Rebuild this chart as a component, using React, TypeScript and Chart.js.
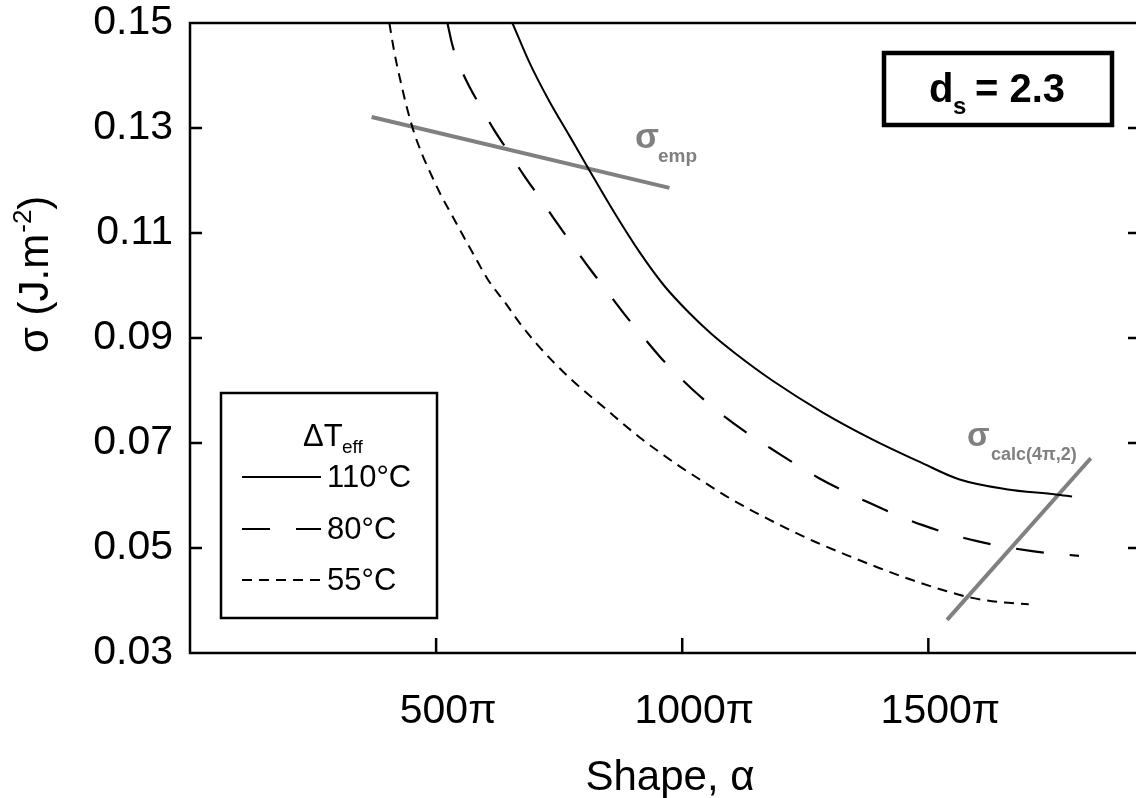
import React, { useEffect, useRef } from "react";
import { Chart, registerables } from "chart.js";

Chart.register(...registerables);

// ---- data ----
const xTickValues = [500, 1000, 1500];
const yTickValues = [0.03, 0.05, 0.07, 0.09, 0.11, 0.13, 0.15];

const alpha110 = [655, 689, 730, 771, 811, 862, 913, 963, 1014, 1059, 1110, 1183, 1284, 1386, 1487, 1562, 1658, 1759, 1792];
const sigma110 = [0.15, 0.1426, 0.1351, 0.1285, 0.122, 0.1139, 0.1064, 0.1, 0.0948, 0.0908, 0.0869, 0.0819, 0.0759, 0.0707, 0.0662, 0.0631, 0.0612, 0.0602, 0.0598];

const alpha80 = [523, 533, 547, 568, 592, 618, 649, 679, 712, 744, 779, 813, 848, 882, 919, 955, 994, 1035, 1081, 1132, 1181, 1278, 1380, 1487, 1599, 1711, 1806];
const sigma80 = [0.15, 0.1458, 0.142, 0.1378, 0.1338, 0.1296, 0.1252, 0.1209, 0.1165, 0.1121, 0.1075, 0.1031, 0.0988, 0.0946, 0.0904, 0.0864, 0.0826, 0.079, 0.0754, 0.0719, 0.0689, 0.0633, 0.0586, 0.0544, 0.0513, 0.0494, 0.0485];

const alpha55 = [405, 415, 428, 442, 456, 472, 491, 511, 531, 553, 578, 606, 639, 671, 706, 771, 842, 913, 953, 994, 1035, 1089, 1150, 1211, 1272, 1333, 1400, 1467, 1536, 1589, 1644, 1704];
const sigma55 = [0.15, 0.1445, 0.1388, 0.1334, 0.1289, 0.1249, 0.1209, 0.117, 0.1136, 0.1098, 0.1056, 0.101, 0.0969, 0.0927, 0.0887, 0.0824, 0.0767, 0.0711, 0.0683, 0.0656, 0.0631, 0.0599, 0.0567, 0.0538, 0.0511, 0.0487, 0.0462, 0.0439, 0.0418, 0.0405, 0.0397, 0.0393];

const empAlpha = [369, 974];
const empSigma = [0.1321, 0.1186];

const calcAlpha = [1538, 1830];
const calcSigma = [0.0363, 0.0671];

const legendLabels = ["110°C", "80°C", "55°C"];
const dashPatterns: number[][] = [[], [28, 26], [10, 7]];

const FONT = "'Liberation Sans', Arial, sans-serif";
const GREY = "#808080";

const toPts = (xs: number[], ys: number[]) => xs.map((x, i) => ({ x, y: ys[i] }));

const decorPlugin = {
  id: "decor",
  afterDraw(chart: any) {
    const { ctx, chartArea, scales } = chart;
    const { left, top, right, bottom } = chartArea;
    const xs = scales.x;
    const ys = scales.y;
    ctx.save();
    // frame
    ctx.strokeStyle = "#000";
    ctx.lineWidth = 2.5;
    ctx.setLineDash([]);
    ctx.strokeRect(left, top, right - left, bottom - top);
    // inward ticks
    ctx.beginPath();
    xTickValues.forEach((v) => {
      const px = xs.getPixelForValue(v);
      ctx.moveTo(px, bottom);
      ctx.lineTo(px, bottom - 15);
    });
    yTickValues.slice(1, -1).forEach((v) => {
      const py = ys.getPixelForValue(v);
      ctx.moveTo(left, py);
      ctx.lineTo(left + 12, py);
      ctx.moveTo(right, py);
      ctx.lineTo(right - 12, py);
    });
    ctx.stroke();

    // d_s box
    ctx.lineWidth = 4.5;
    ctx.strokeRect(884, 53, 228, 72);
    ctx.fillStyle = "#000";
    ctx.textBaseline = "alphabetic";
    ctx.textAlign = "left";
    ctx.font = `bold 40px ${FONT}`;
    ctx.fillText("d", 929, 102);
    ctx.font = `bold 24px ${FONT}`;
    ctx.fillText("s", 953, 114);
    ctx.font = `bold 40px ${FONT}`;
    ctx.fillText("= 2.3", 975, 102);

    // grey annotation labels
    ctx.fillStyle = GREY;
    ctx.font = `bold 35px ${FONT}`;
    ctx.fillText("σ", 635, 148);
    ctx.font = `bold 19px ${FONT}`;
    ctx.fillText("emp", 658, 162);
    ctx.font = `bold 33px ${FONT}`;
    ctx.fillText("σ", 967, 446);
    ctx.font = `bold 18px ${FONT}`;
    ctx.fillText("calc(4π,2)", 991, 460);

    // legend box
    ctx.strokeStyle = "#000";
    ctx.lineWidth = 2.5;
    ctx.strokeRect(221, 393, 216, 225);
    ctx.fillStyle = "#000";
    ctx.font = `31px ${FONT}`;
    ctx.fillText("ΔT", 303, 446);
    ctx.font = `19px ${FONT}`;
    ctx.fillText("eff", 342, 453);
    const rowY = [477, 529, 580];
    legendLabels.forEach((lab, i) => {
      ctx.beginPath();
      ctx.lineWidth = 2.2;
      ctx.setLineDash(dashPatterns[i]);
      ctx.moveTo(242, rowY[i]);
      ctx.lineTo(321, rowY[i]);
      ctx.stroke();
      ctx.setLineDash([]);
      ctx.font = `31px ${FONT}`;
      ctx.textBaseline = "middle";
      ctx.fillText(lab, 327, rowY[i] + 1);
      ctx.textBaseline = "alphabetic";
    });

    // axis titles
    ctx.fillStyle = "#000";
    ctx.font = `42px ${FONT}`;
    ctx.textAlign = "center";
    ctx.fillText("Shape, α", 670, 790);

    ctx.save();
    ctx.translate(48, 353);
    ctx.rotate(-Math.PI / 2);
    ctx.textAlign = "left";
    ctx.font = `42px ${FONT}`;
    const part1 = "σ (J.m";
    ctx.fillText(part1, 0, 0);
    let w = ctx.measureText(part1).width;
    ctx.font = `26px ${FONT}`;
    ctx.fillText("-2", w + 1, -17);
    w += ctx.measureText("-2").width + 1;
    ctx.font = `42px ${FONT}`;
    ctx.fillText(")", w, 0);
    ctx.restore();

    ctx.restore();
  },
};

export default function App() {
  const ref = useRef<HTMLCanvasElement | null>(null);
  useEffect(() => {
    if (!ref.current) return;
    const chart = new Chart(ref.current, {
      type: "line",
      data: {
        datasets: [
          { label: legendLabels[0], data: toPts(alpha110, sigma110), borderColor: "#000", borderWidth: 2, borderDash: dashPatterns[0], pointRadius: 0, cubicInterpolationMode: "monotone", fill: false },
          { label: legendLabels[1], data: toPts(alpha80, sigma80), borderColor: "#000", borderWidth: 2.2, borderDash: dashPatterns[1], pointRadius: 0, cubicInterpolationMode: "monotone", fill: false },
          { label: legendLabels[2], data: toPts(alpha55, sigma55), borderColor: "#000", borderWidth: 2, borderDash: dashPatterns[2], pointRadius: 0, cubicInterpolationMode: "monotone", fill: false },
          { label: "σemp", data: toPts(empAlpha, empSigma), borderColor: GREY, borderWidth: 4, pointRadius: 0, fill: false },
          { label: "σcalc", data: toPts(calcAlpha, calcSigma), borderColor: GREY, borderWidth: 4, pointRadius: 0, fill: false },
        ],
      },
      options: {
        animation: false,
        responsive: false,
        maintainAspectRatio: false,
        events: [],
        layout: { padding: { top: 23, right: 10, left: 0, bottom: 0 } },
        plugins: { legend: { display: false }, tooltip: { enabled: false }, title: { display: false } },
        scales: {
          x: {
            type: "linear",
            min: 0,
            max: 1930,
            afterBuildTicks: (s: any) => {
              s.ticks = xTickValues.map((v) => ({ value: v }));
            },
            afterFit: (s: any) => {
              s.height = 145;
              s.paddingLeft = 0;
              s.paddingRight = 0;
            },
            ticks: {
              callback: (v: any) => `${v}π`,
              font: { family: FONT, size: 41 },
              color: "#000",
              padding: 34,
              labelOffset: 12,
              maxRotation: 0,
              autoSkip: false,
            },
            grid: { display: false, drawTicks: false },
            border: { display: false },
          },
          y: {
            type: "linear",
            min: 0.03,
            max: 0.15,
            afterBuildTicks: (s: any) => {
              s.ticks = yTickValues.map((v) => ({ value: v }));
            },
            afterFit: (s: any) => {
              s.width = 190;
              s.paddingTop = 0;
              s.paddingBottom = 0;
            },
            ticks: {
              callback: (v: any) => Number(v).toFixed(2),
              font: { family: FONT, size: 41 },
              color: "#000",
              padding: 17,
              autoSkip: false,
            },
            grid: { display: false, drawTicks: false },
            border: { display: false },
          },
        },
      },
      plugins: [decorPlugin],
    } as any);
    return () => chart.destroy();
  }, []);
  return (
    <div style={{ position: "absolute", left: 0, top: 0, width: 1136, height: 798, overflow: "hidden", background: "#fff" }}>
      <canvas ref={ref} width={1150} height={798} style={{ display: "block", width: 1150, height: 798 }} />
    </div>
  );
}
